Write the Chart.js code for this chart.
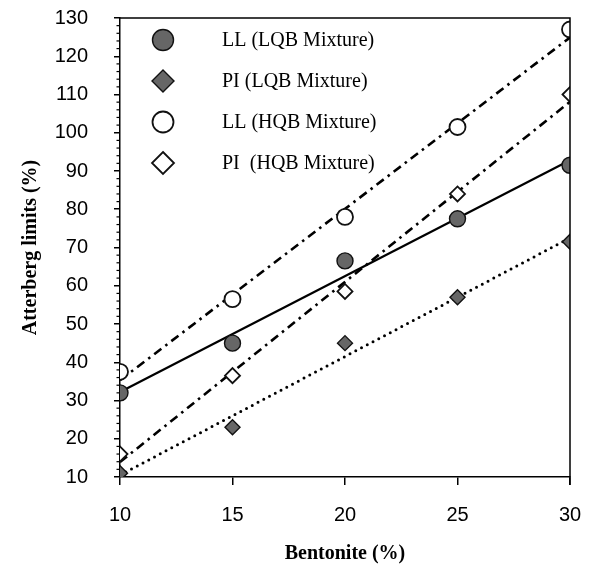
<!DOCTYPE html>
<html>
<head>
<meta charset="utf-8">
<script src="https://cdn.jsdelivr.net/npm/chart.js@4.4.1/dist/chart.umd.min.js"></script>
<style>
  html, body { margin: 0; padding: 0; background: #fff; }
  #chart { display: block; }
</style>
</head>
<body>
<canvas id="chart" width="590" height="571"></canvas>
<script>
// Bentonite content (%)
const bentonite = [10, 15, 20, 25, 30];

// Atterberg limits (%)
const llLqb = [32, 45, 66.5, 77.5, 91.5];
const piLqb = [11, 23, 45, 57, 71.5];
const llHqb = [37.5, 56.5, 78, 101.5, 127];
const piHqb = [16, 36.5, 58.5, 84, 110];

const seriesLabels = ['LL (LQB Mixture)', 'PI (LQB Mixture)', 'LL (HQB Mixture)', 'PI  (HQB Mixture)'];

const xTicks = [10, 15, 20, 25, 30];
const yTicks = [10, 20, 30, 40, 50, 60, 70, 80, 90, 100, 110, 120, 130];

const FILL_GRAY = '#666666';
const EDGE = '#111111';

// least squares line over the x range, from the plotted data
function fitLine(xs, ys) {
  const n = xs.length;
  const mx = xs.reduce((a, b) => a + b, 0) / n;
  const my = ys.reduce((a, b) => a + b, 0) / n;
  let sxy = 0, sxx = 0;
  xs.forEach((x, i) => { sxy += (x - mx) * (ys[i] - my); sxx += (x - mx) * (x - mx); });
  const slope = sxy / sxx;
  const x0 = xs[0], x1 = xs[n - 1];
  return [{ x: x0, y: my + slope * (x0 - mx) }, { x: x1, y: my + slope * (x1 - mx) }];
}

const toPoints = ys => bentonite.map((x, i) => ({ x, y: ys[i] }));

const markerStyles = [
  { pointStyle: 'circle', radius: 8, fill: FILL_GRAY, edge: 1.4 },
  { pointStyle: 'rectRot', radius: 7.5, fill: FILL_GRAY, edge: 1.4 },
  { pointStyle: 'circle', radius: 8, fill: '#ffffff', edge: 1.8 },
  { pointStyle: 'rectRot', radius: 7.5, fill: '#ffffff', edge: 1.8 }
];

const lineDashes = [[], [0, 6.5], [9, 5, 2.5, 5], [9, 5, 2.5, 5]];
const lineWidths = [2.3, 3, 2.6, 2.6];
const allSeries = [llLqb, piLqb, llHqb, piHqb];

const datasets = [];
allSeries.forEach((ys, i) => {
  datasets.push({
    label: seriesLabels[i] + ' fit',
    data: fitLine(bentonite, ys),
    showLine: true,
    borderColor: '#000',
    borderWidth: lineWidths[i],
    borderDash: lineDashes[i],
    borderCapStyle: i === 1 ? 'round' : 'butt',
    pointRadius: 0,
    order: 2
  });
});
allSeries.forEach((ys, i) => {
  const m = markerStyles[i];
  datasets.push({
    label: seriesLabels[i],
    data: toPoints(ys),
    showLine: false,
    pointStyle: m.pointStyle,
    pointRadius: m.radius,
    pointBackgroundColor: m.fill,
    pointBorderColor: EDGE,
    pointBorderWidth: m.edge,
    order: 1
  });
});

// frame, minor ticks and in-plot legend
const decorations = {
  id: 'decorations',
  afterDraw(chart) {
    const { ctx, chartArea: a, scales } = chart;
    ctx.save();
    ctx.strokeStyle = '#000';
    ctx.lineWidth = 1.5;
    ctx.beginPath();
    ctx.moveTo(a.left, a.top);
    ctx.lineTo(a.right, a.top);
    ctx.lineTo(a.right, a.bottom + 8);
    ctx.stroke();

    // minor y ticks
    ctx.lineWidth = 1.2;
    const y = scales.y;
    for (let v = y.min; v <= y.max; v += 2) {
      if (v % 10 === 0) continue;
      const py = y.getPixelForValue(v);
      ctx.beginPath();
      ctx.moveTo(a.left - 3.5, py);
      ctx.lineTo(a.left, py);
      ctx.stroke();
    }

    // legend
    const lx = a.left + 43;
    const tx = a.left + 102;
    ctx.font = '20px "Liberation Serif", "Times New Roman", serif';
    ctx.textBaseline = 'middle';
    ctx.textAlign = 'left';
    seriesLabels.forEach((lab, i) => {
      const ly = a.top + 22 + i * 41;
      const m = markerStyles[i];
      const r = m.pointStyle === 'circle' ? 10.5 : 11;
      ctx.fillStyle = m.fill;
      ctx.strokeStyle = EDGE;
      ctx.lineWidth = m.edge;
      ctx.beginPath();
      if (m.pointStyle === 'circle') {
        ctx.arc(lx, ly, r, 0, Math.PI * 2);
      } else {
        ctx.moveTo(lx, ly - r);
        ctx.lineTo(lx + r, ly);
        ctx.lineTo(lx, ly + r);
        ctx.lineTo(lx - r, ly);
        ctx.closePath();
      }
      ctx.fill();
      ctx.stroke();
      ctx.fillStyle = '#000';
      ctx.fillText(lab, tx, ly + 1);
    });
    ctx.restore();
  }
};

const tickFont = { family: '"Liberation Sans", Arial, sans-serif', size: 20 };
const titleFont = { family: '"Liberation Serif", "Times New Roman", serif', size: 20, weight: 'bold' };

new Chart(document.getElementById('chart'), {
  type: 'scatter',
  data: { datasets },
  options: {
    responsive: false,
    animation: false,
    layout: { padding: { top: 18, right: 20, left: 0, bottom: 0 } },
    plugins: { legend: { display: false }, tooltip: { enabled: false } },
    scales: {
      x: {
        type: 'linear',
        min: xTicks[0],
        max: xTicks[xTicks.length - 1],
        afterBuildTicks: s => { s.ticks = xTicks.map(v => ({ value: v })); },
        afterFit: s => { s.height = 94; s.paddingLeft = 0; s.paddingRight = 0; },
        ticks: { color: '#000', font: tickFont, padding: 18, maxRotation: 0 },
        grid: { drawOnChartArea: false, drawTicks: true, tickLength: 8, color: '#000', lineWidth: 1.5 },
        border: { display: true, color: '#000', width: 1.5 },
        title: { display: true, text: 'Bentonite (%)', color: '#000', font: titleFont, padding: { bottom: 5 } }
      },
      y: {
        type: 'linear',
        min: yTicks[0],
        max: yTicks[yTicks.length - 1],
        afterBuildTicks: s => { s.ticks = yTicks.map(v => ({ value: v })); },
        afterFit: s => { s.width = 120; s.paddingTop = 0; s.paddingBottom = 0; },
        ticks: { color: '#000', font: tickFont, padding: 26 },
        grid: { drawOnChartArea: false, drawTicks: true, tickLength: 6, color: '#000', lineWidth: 1.5 },
        border: { display: true, color: '#000', width: 1.5 },
        title: { display: true, text: 'Atterberg limits (%)', color: '#000', font: titleFont, padding: { top: 19 } }
      }
    }
  },
  plugins: [decorations]
});
</script>
</body>
</html>
